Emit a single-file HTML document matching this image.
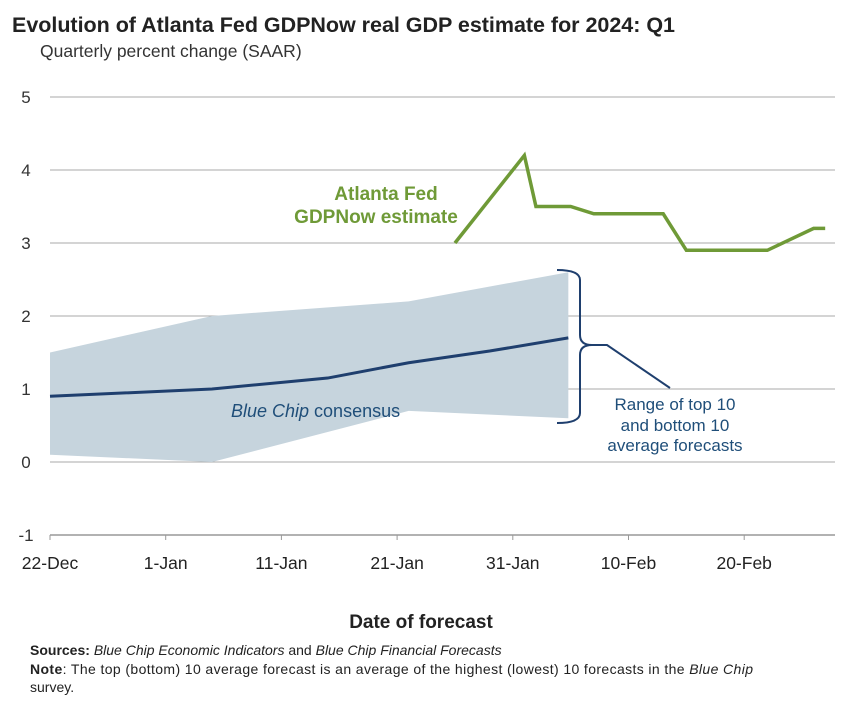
<!DOCTYPE html>
<html><head><meta charset="utf-8"><style>
body{margin:0;background:#fff;font-family:"Liberation Sans",sans-serif;}
svg{display:block}
</style></head><body>
<svg width="855" height="703">
<text x="12" y="32" font-size="21.5" font-weight="bold" fill="#222" textLength="663">Evolution of Atlanta Fed GDPNow real GDP estimate for 2024: Q1</text>
<text x="40" y="57" font-size="17.5" fill="#333">Quarterly percent change (SAAR)</text>
<g id="grid"></g>
<g id="marks"></g>
<g id="axes"></g>
<text x="231" y="417" font-size="18" fill="#1f4e79"><tspan font-style="italic">Blue Chip</tspan> consensus</text>
<text x="377" y="200" font-size="19" font-weight="bold" fill="#6f9a37" text-anchor="middle"><tspan x="386" dy="0">Atlanta Fed</tspan><tspan x="376" dy="23">GDPNow estimate</tspan></text>
<path d="M557,270 Q580,270 580,280 L580,335 Q580,345 592,345 Q580,345 580,355 L580,413 Q580,423 557,423" fill="none" stroke="#1f3f6e" stroke-width="2"/>
<polyline points="592,345 607,345 670,388" fill="none" stroke="#1f3f6e" stroke-width="2"/>
<text font-size="17" fill="#1f4e79" text-anchor="middle"><tspan x="675" y="410">Range of top 10</tspan><tspan x="675" y="431">and bottom 10</tspan><tspan x="675" y="451">average forecasts</tspan></text>
<text x="421" y="628" font-size="19" font-weight="bold" fill="#222" text-anchor="middle">Date of forecast</text>
<text x="30" y="655" font-size="14" fill="#222"><tspan font-weight="bold">Sources:</tspan> <tspan font-style="italic">Blue Chip Economic Indicators</tspan> and <tspan font-style="italic">Blue Chip Financial Forecasts</tspan></text>
<text x="30" y="674" font-size="14" fill="#222" textLength="723"><tspan font-weight="bold">Note</tspan>: The top (bottom) 10 average forecast is an average of the highest (lowest) 10 forecasts in the <tspan font-style="italic">Blue Chip</tspan></text>
<text x="30" y="692" font-size="14" fill="#222">survey.</text>
</svg>
<script>
const yTicks=[5,4,3,2,1,0,-1];
const xTickDays=[0,10,20,30,40,50,60];
const xTickLabels=["22-Dec","1-Jan","11-Jan","21-Jan","31-Jan","10-Feb","20-Feb"];
const bandDays=[0,14,31,44.8];
const bandUpper=[1.5,2.0,2.2,2.6];
const bandLowerDays=[0,14,31,44.8];
const bandLower=[0.1,0.0,0.7,0.6];
const consDays=[0,14,24,31,38,44.8];
const consVals=[0.9,1.0,1.15,1.36,1.52,1.7];
const gdpDays=[35,41,42,45,47,53,55,62,66,67];
const gdpVals=[3.0,4.2,3.5,3.5,3.4,3.4,2.9,2.9,3.2,3.2];
const NS="http://www.w3.org/2000/svg";
const X=d=>50+d*11.57, Y=v=>462-v*73;
function mk(p,t,a){const e=document.createElementNS(NS,t);for(const k in a)e.setAttribute(k,a[k]);document.getElementById(p).appendChild(e);return e;}
yTicks.forEach(v=>{
 const l=mk('grid','line',{x1:50,x2:835,y1:Y(v),y2:Y(v),stroke:v===-1?'#999':'#aaa','stroke-width':v===-1?1.5:1});
 
 
 const t=mk('axes','text',{x:26,y:Y(v)+6,'font-size':17,fill:'#333','text-anchor':'middle'});t.textContent=v;
 
 
});
xTickDays.forEach((d,i)=>{
 const l=mk('axes','line',{x1:X(d),x2:X(d),y1:Y(-1),y2:Y(-1)+5,stroke:'#999'});
 
 
 const t=mk('axes','text',{x:X(d),y:569,'font-size':17.5,fill:'#222','text-anchor':'middle'});t.textContent=xTickLabels[i];
 
 
});
let pts=bandDays.map((d,i)=>X(d)+','+Y(bandUpper[i]));
for(let i=bandLowerDays.length-1;i>=0;i--)pts.push(X(bandLowerDays[i])+','+Y(bandLower[i]));
const band=mk('marks','polygon',{points:pts.join(' '),fill:'#c6d4dd'});


const cons=mk('marks','polyline',{points:consDays.map((d,i)=>X(d)+','+Y(consVals[i])).join(' '),fill:'none',stroke:'#1f3f6e','stroke-width':3});


const g=mk('marks','polyline',{points:gdpDays.map((d,i)=>X(d)+','+Y(gdpVals[i])).join(' '),fill:'none',stroke:'#6f9a37','stroke-width':3.5,'stroke-linejoin':'miter'});


</script>
</body></html>
